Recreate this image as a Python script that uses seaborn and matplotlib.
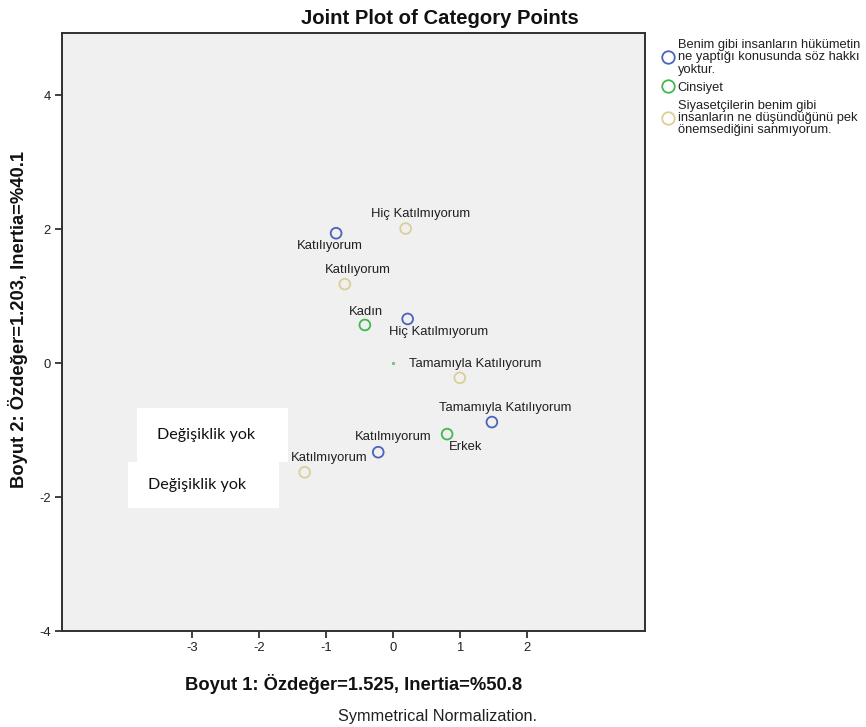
import matplotlib
matplotlib.use("Agg")
import matplotlib.pyplot as plt
import seaborn as sns
import pandas as pd
from matplotlib.lines import Line2D
from matplotlib.patches import Rectangle

# ---- data ----
groups = ["Benim gibi insanların hükümetin\nne yaptığı konusunda söz hakkı\nyoktur.",
          "Cinsiyet",
          "Siyasetçilerin benim gibi\ninsanların ne düşündüğünü pek\nönemsediğini sanmıyorum."]
colors = ["#4a63bd", "#3fb84f", "#d9cf98"]

g1_labels = ["Katılıyorum", "Hiç Katılmıyorum", "Tamamıyla Katılıyorum", "Katılmıyorum"]
g1_x = [-0.85, 0.22, 1.48, -0.22]
g1_y = [1.94, 0.66, -0.88, -1.33]

g2_labels = ["Kadın", "Erkek"]
g2_x = [-0.42, 0.81]
g2_y = [0.57, -1.06]

g3_labels = ["Hiç Katılmıyorum", "Katılıyorum", "Tamamıyla Katılıyorum", "Katılmıyorum"]
g3_x = [0.19, -0.72, 1.00, -1.32]
g3_y = [2.01, 1.18, -0.22, -1.63]

overlay_texts = ["Değişiklik yok", "Değişiklik yok"]

# label offsets in pixels (style)
off1 = [(-6, -13), (31, -13), (13, 14), (15, 15)]
off2 = [(1, 13), (18, -13)]
off3 = [(15, 15), (13, 14), (15, 14), (24, 14)]

df = pd.DataFrame({
    "x": g1_x + g2_x + g3_x,
    "y": g1_y + g2_y + g3_y,
    "label": g1_labels + g2_labels + g3_labels,
    "group": [groups[0]] * len(g1_x) + [groups[1]] * len(g2_x) + [groups[2]] * len(g3_x),
})
offsets = off1 + off2 + off3

sns.set_theme(style="white")
plt.rcParams["font.family"] = ["Liberation Sans", "DejaVu Sans"]
plt.rcParams["axes.unicode_minus"] = False

fig = plt.figure(figsize=(8.66, 7.27), dpi=100)
ax = fig.add_axes([62 / 866, 96 / 727, 583 / 866, 598 / 727])
ax.set_facecolor("#f0f0f0")

sns.scatterplot(data=df, x="x", y="y", hue="group", hue_order=groups,
                palette=colors, s=60, linewidth=1.3, ax=ax, legend=False, zorder=3)
coll = ax.collections[0]
fcs = coll.get_facecolors()
coll.set_edgecolors(fcs)
coll.set_facecolors("none")

# tiny centroid mark
ax.plot([0], [0], marker="s", ms=1.2, color="#7fbf7f", lw=0, zorder=2)

for (xx, yy, lab), (dx, dy) in zip(df[["x", "y", "label"]].values, offsets):
    ax.annotate(lab, (xx, yy), xytext=(dx, dy), textcoords="offset pixels",
                ha="center", va="center", fontsize=9.4, color="#202020", zorder=4)

ax.set_xlim(-4.95, 3.77)
ax.set_ylim(-4.0, 4.93)
ax.set_xticks([-3, -2, -1, 0, 1, 2])
ax.set_yticks([-4, -2, 0, 2, 4])
ax.tick_params(axis="both", which="major", direction="out", length=5, width=1.2,
               labelsize=9.4, colors="#202020", bottom=True, left=True, pad=3)
for sp in ax.spines.values():
    sp.set_color("#303030")
    sp.set_linewidth(1.4)

ax.set_xlabel("Boyut 1: Özdeğer=1.525, Inertia=%50.8", fontsize=13.2, fontweight="bold",
              labelpad=14, color="#111111")
ax.set_ylabel("")
fig.text(18 / 866, 1 - 320 / 727, "Boyut 2: Özdeğer=1.203, Inertia=%40.1", rotation=90,
         ha="center", va="center", fontsize=13.2, fontweight="bold", color="#111111")
fig.text(440 / 866, 1 - 19 / 727, "Joint Plot of Category Points", ha="center",
         va="center", fontsize=14.6, fontweight="bold", color="#111111")
fig.text(437 / 866, 1 - 716 / 727, "Symmetrical Normalization.", ha="center",
         va="center", fontsize=11.7, color="#202020")

# white overlay boxes
boxes = [(-3.83, -1.48, 2.26, 0.81), (-3.97, -2.16, 2.26, 0.68)]
for (bx, by, bw, bh), txt in zip(boxes, overlay_texts):
    ax.add_patch(Rectangle((bx, by), bw, bh, facecolor="white", edgecolor="none",
                           zorder=6, clip_on=False))
    ax.text(bx + bw * 0.46, by + bh * 0.5, txt, ha="center", va="center",
            fontsize=11.6, family=["Lato", "DejaVu Sans"], color="#111111", zorder=7)

handles = [Line2D([0], [0], marker="o", lw=0, markerfacecolor="none",
                  markeredgecolor=c, markersize=9, markeredgewidth=1.3) for c in colors]
leg = fig.legend(handles, groups, loc="upper left", bbox_to_anchor=(663 / 866, 1 - 39 / 727),
                 frameon=False, fontsize=9.3, handlelength=0.7, handletextpad=0.45,
                 labelspacing=0.45, borderaxespad=0, borderpad=0.0)
for t in leg.get_texts():
    t.set_linespacing(1.05)
    t.set_color("#202020")

fig.savefig("out.png", dpi=100)
